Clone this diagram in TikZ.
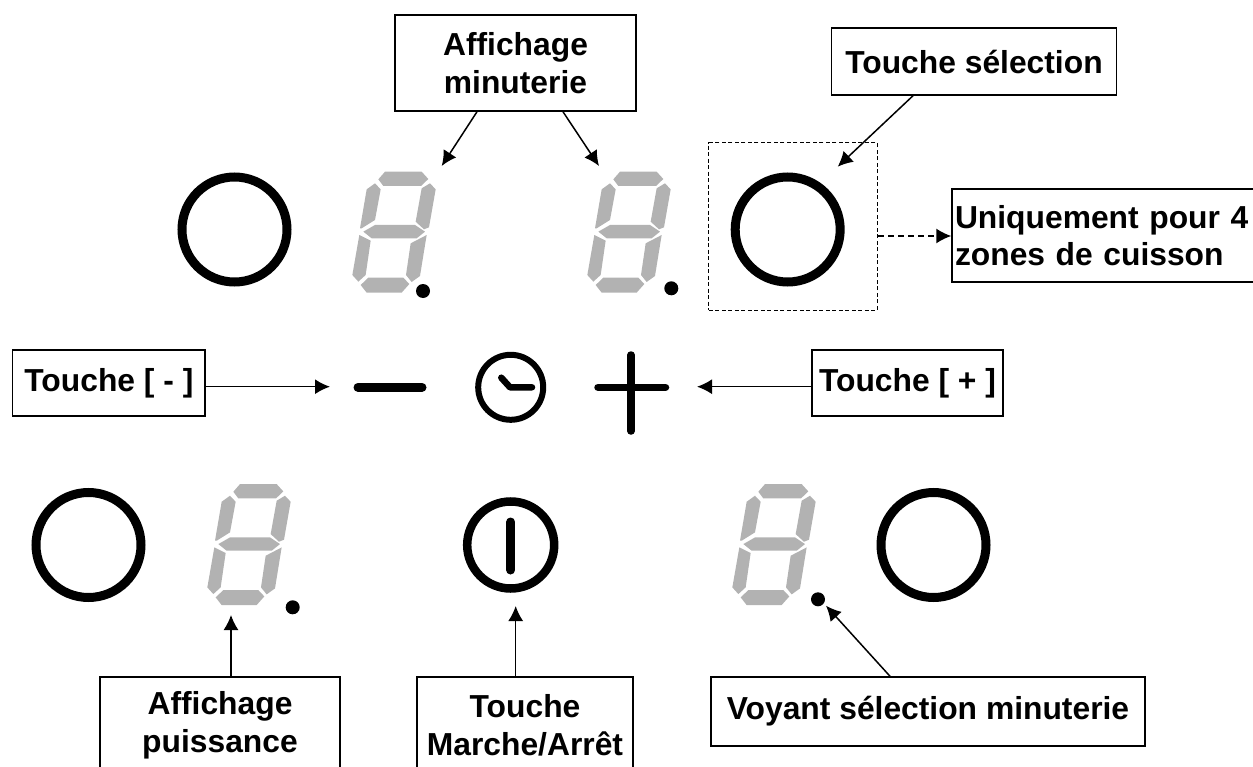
\documentclass[tikz,border=0pt]{standalone}
\usepackage{fontspec}
\setmainfont{Liberation Sans}
\usetikzlibrary{calc,arrows.meta}
\newcommand{\segdigit}[2]{%
\begin{scope}[shift={(#1,#2)},x=0.33333bp,y=-0.33333bp]
\fill[seg] (195,65)--(305,65)--(325,87)--(303,108)--(190,108)--(175,88)--cycle;
\fill[seg] (330,100)--(347,118)--(327,232)--(312,238)--(287,215)--(305,115)--cycle;
\fill[seg] (165,100)--(182,118)--(165,210)--(125,235)--(120,235)--(140,118)--cycle;
\fill[seg] (165,225)--(285,225)--(315,245)--(290,265)--(155,265)--(130,245)--cycle;
\fill[seg] (118,255)--(152,272)--(137,375)--(115,395)--(97,375)--cycle;
\fill[seg] (320,255)--(300,378)--(275,396)--(258,375)--(272,280)--cycle;
\fill[seg] (145,383)--(250,383)--(268,402)--(245,428)--(140,428)--(122,405)--cycle;
\end{scope}}
\tikzset{
  seg/.style={fill=black!30},
  lbl/.style={draw,line width=1.5bp,inner sep=0pt,align=center,font=\fontsize{31.8bp}{37.7bp}\selectfont\bfseries},
  arr/.style={line width=1.5bp,-{Latex[length=15bp,width=15bp]},shorten >=0pt},
  dasharr/.style={arr,dash pattern=on 6bp off 4bp},
  ring/.style={circle,draw,line width=9bp,minimum size=105bp,inner sep=0pt},
  symb/.style={line width=9bp,line cap=round,line join=round},
  ld/.style={circle,fill=black,inner sep=0pt,minimum size=14bp}
}
\begin{document}
\begin{tikzpicture}[x=1bp,y=-1bp]
\useasboundingbox (0,0) rectangle (1253,767);
% digits
\segdigit{320}{150}
\segdigit{555}{150}
\segdigit{175}{462.4}
\segdigit{700}{462.4}
\node[ld] (d1) at (423,291) {};
\node[ld] (d2) at (671.3,288.3) {};
\node[ld] (d3) at (292.7,607.3) {};
\node[ld] (d4) at (818,599.3) {};
% rings
\node[ring] (r1) at (234.5,229.5) {};
\node[ring] (r2) at (787.7,229.5) {};
\node[ring] (r3) at (88.5,545) {};
\node[ring] (r4) at (933.5,545) {};
\node[ring,minimum size=87bp,line width=8.5bp] (pw) at (510.7,545) {};
\draw[symb] (510.7,522) -- (510.7,570);
% minus, clock, plus
\draw[symb] (358,387.3) -- (422,387.3);
\node[circle,draw,line width=6bp,minimum size=65bp,inner sep=0pt] (clk) at (510.7,387.3) {};
\draw[symb,line width=6.5bp] (501.3,377.7) -- (510,387.3) -- (532,387.3);
\draw[symb,line width=7.5bp] (598,387.3) -- (665.5,387.3);
\draw[symb,line width=7.5bp] (631,355) -- (631,431);
% dashed zone
\node[draw,dash pattern=on 4bp off 2.5bp,line width=1bp,minimum width=168.7bp,minimum height=167bp,inner sep=0pt] (zone) at (793.3,226.5) {};
% labels
\node[lbl,minimum width=241bp,minimum height=96bp] (aff) at (515.5,63) {Affichage\\minuterie};
\node[lbl,minimum width=285bp,minimum height=67bp] (sel) at (974,61.5) {Touche sélection};
\node[lbl,minimum width=310bp,minimum height=93bp,align=left,text width=304bp] (uni) at (1107,235.5) {Uniquement pour 4\\zones de cuisson};
\node[lbl,minimum width=192.3bp,minimum height=66bp] (tm) at (108.9,383) {Touche [ - ]};
\node[lbl,minimum width=191bp,minimum height=66bp] (tp) at (907.5,383) {Touche [ + ]};
\node[lbl,minimum width=240bp,minimum height=96bp] (pui) at (220,725) {Affichage\\puissance};
\node[lbl,minimum width=216bp,minimum height=96bp] (ma) at (525,725) {Touche\\Marche/Arrêt};
\node[lbl,minimum width=434bp,minimum height=69bp] (voy) at (928,711.5) {Voyant sélection minuterie};
% arrow ends
\coordinate (ta1) at (441.7,166);
\coordinate (ta2) at (599,166);
\coordinate (ts) at (837.7,166.7);
\coordinate (tm1) at (330,386.7);
\coordinate (tp1) at (697,386.7);
\coordinate (tpu) at (231,615);
\coordinate (tma) at (515.7,606);
\coordinate (tv) at (826,605.7);
\draw[arr] ($(aff.south)+(-38.5,0)$) -- (ta1);
\draw[arr] ($(aff.south)+(47.5,0)$) -- (ta2);
\draw[arr] ($(sel.south)+(-61,0)$) -- (ts);
\draw[dasharr] (zone.east |- 0,236) -- (uni.west |- 0,236);
\draw[arr] (tm.east |- tm1) -- (tm1);
\draw[arr] (tp.west |- tp1) -- (tp1);
\draw[arr] (pui.north -| tpu) -- (tpu);
\draw[arr] (ma.north -| tma) -- (tma);
\draw[arr] ($(voy.north)+(-38,0)$) -- (tv);
\end{tikzpicture}
\end{document}
